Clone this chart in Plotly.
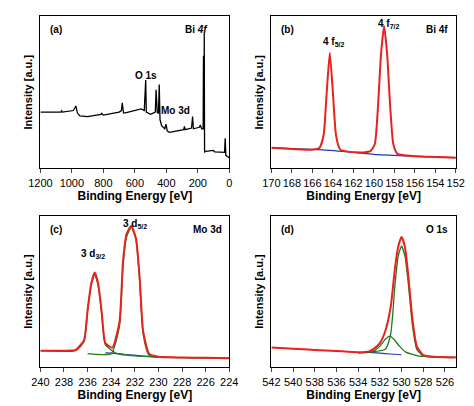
import plotly.graph_objects as go
from plotly.subplots import make_subplots

# (a) survey spectrum
survey_x = [1200, 1070, 1065, 1060, 990, 975, 965, 950, 900, 815, 810, 805, 800, 700, 685, 680, 672, 660,
            560, 540, 531, 527, 515, 500, 470, 465, 458, 450, 445, 440, 430, 410, 402, 398, 394, 380, 290,
            285, 280, 240, 233, 228, 190, 185, 175, 166, 164, 162, 160, 159, 157, 150, 100, 95, 90, 30,
            26, 22, 10, 0]
survey_y = [37, 37, 37.8, 37, 38, 41, 36.5, 34.5, 34, 35.5, 36.2, 35.5, 35, 37, 38, 43, 36.5, 36.5,
            39, 38, 58, 37, 36.5, 35.5, 37, 51.6, 37, 36, 55, 32, 28, 26, 29, 25, 24.5, 23.7, 25.4,
            27.5, 25.4, 26.5, 34, 26, 27, 28.4, 26, 26, 74, 26, 26, 89, 10.8, 11.2, 11.8, 11, 10.8, 10.5,
            19.8, 8.6, 8, 7]

# (b) Bi 4f
bi_x = [170, 168, 166, 165.3, 164.9, 164.6, 164.3, 164.0, 163.7, 163.3, 162.5, 161, 160.3, 159.9,
        159.6, 159.3, 159.0, 158.7, 158.4, 158.1, 157.7, 156, 154, 152]
bi_y = [13.5, 12.8, 12.2, 13.5, 22, 50, 76, 50, 22, 12.5, 11, 10.5, 11.5, 16, 40, 75, 93.5, 75, 40,
        16, 9.5, 8, 7.5, 7]
bi_bg_x = [170, 165, 162, 160, 157, 152]
bi_bg_y = [13.5, 12.2, 10.5, 9.2, 8.2, 7]

# (c) Mo 3d
mo_x = [240, 238, 237, 236.3, 236.0, 235.7, 235.4, 235.1, 234.8, 234.5, 233.9, 233.3, 233.0, 232.7,
        232.3, 231.9, 231.6, 231.3, 230.8, 230, 228, 226, 224]
mo_y = [11, 11, 11.5, 18, 38, 55, 62.6, 55, 36, 16, 13, 30, 70, 88, 93.5, 85, 60, 24, 9, 7, 6.5, 6.3, 6]
mo_g1_x = [240, 237, 236.3, 236.0, 235.7, 235.4, 235.1, 234.8, 234.5, 233.5, 232, 230]
mo_g1_y = [11, 11, 17, 37, 54, 61.5, 54, 35, 15, 9, 7.5, 7]
mo_g2_x = [236, 234, 233.3, 233.0, 232.7, 232.3, 231.9, 231.6, 231.3, 230.8, 229, 224]
mo_g2_y = [9, 9, 27, 67, 86, 92.5, 84, 58, 22, 8, 6.5, 6]
mo_bg_x = [234.5, 233, 231.5, 230]
mo_bg_y = [9.5, 8.8, 7.5, 6.5]

# (d) O 1s
o_x = [542, 540, 538, 536, 534, 533, 532.5, 532, 531.5, 531, 530.6, 530.3, 530.0, 529.7, 529.4,
       529.0, 528.6, 528, 527, 525]
o_y = [13, 12.3, 11.5, 10.8, 10, 10.5, 12.5, 16, 24, 40, 66, 80, 86, 80, 62, 32, 14, 8, 7, 6.5]
o_g1_x = [534, 531.5, 531, 530.6, 530.3, 530.0, 529.7, 529.4, 529.0, 528.6, 528, 525]
o_g1_y = [9.5, 12, 22, 55, 74, 80, 74, 57, 28, 12, 7.5, 6.5]
o_g2_x = [534, 533, 532.5, 532, 531.5, 531.1, 530.7, 530.2, 529.6, 528.5, 525]
o_g2_y = [9.6, 9.8, 11, 14, 18.5, 20.6, 18.5, 14, 10, 7.5, 6.5]
o_bg_x = [533, 532, 531, 530]
o_bg_y = [9.8, 9.3, 8.8, 8.3]

RED, GREEN, BLUE = "#e8221c", "#1f7a1f", "#1d3fa8"
F = "Liberation Sans, Arial, sans-serif"

fig = make_subplots(rows=2, cols=2)

def line(x, y, color, r, c, w=1.6):
    fig.add_trace(go.Scatter(x=x, y=y, mode="lines", line=dict(color=color, width=w, shape="spline", smoothing=0.5),
                             showlegend=False), row=r, col=c)

fig.add_trace(go.Scatter(x=survey_x, y=survey_y, mode="lines", line=dict(color="black", width=1.3),
                         showlegend=False), row=1, col=1)
line(bi_bg_x, bi_bg_y, BLUE, 1, 2, 1.2)
line(bi_x, bi_y, RED, 1, 2, 2)
line(mo_bg_x, mo_bg_y, BLUE, 2, 1, 1.2)
line(mo_g1_x, mo_g1_y, GREEN, 2, 1, 1.3)
line(mo_g2_x, mo_g2_y, GREEN, 2, 1, 1.3)
line(mo_x, mo_y, RED, 2, 1, 2)
line(o_bg_x, o_bg_y, BLUE, 2, 2, 1.2)
line(o_g1_x, o_g1_y, GREEN, 2, 2, 1.3)
line(o_g2_x, o_g2_y, GREEN, 2, 2, 1.3)
line(o_x, o_y, RED, 2, 2, 2)

ranges = {(1, 1): [1200, 0], (1, 2): [170, 152], (2, 1): [240, 224], (2, 2): [542, 525]}
dticks = {(1, 1): 200, (1, 2): 2, (2, 1): 2, (2, 2): 2}
for (r, c), rg in ranges.items():
    fig.update_xaxes(range=rg, dtick=dticks[(r, c)], tick0=0, ticks="outside", ticklen=4, showline=True,
                     linecolor="black", linewidth=1, mirror=True, showgrid=False, zeroline=False,
                     tickfont=dict(family=F, size=11, color="black"),
                     title=dict(text="<b>Binding Energy [eV]</b>", font=dict(family=F, size=12, color="black"), standoff=2),
                     row=r, col=c)
    fig.update_yaxes(range=[0, 100], showticklabels=False, ticks="", showline=True, linecolor="black",
                     linewidth=1, mirror=True, showgrid=False, zeroline=False,
                     title=dict(text="<b>Intensity [a.u.]</b>", font=dict(family=F, size=11, color="black"), standoff=4),
                     row=r, col=c)

fig.update_xaxes(domain=[0.045, 0.462], col=1)
fig.update_xaxes(domain=[0.555, 0.962], col=2)
fig.update_yaxes(domain=[0.605, 0.980], row=1)
fig.update_yaxes(domain=[0.115, 0.488], row=2)

labels = [("x", "y", 0.04, 0.96, "(a)", "left"), ("x", "y", 0.9, 0.96, "Bi <i>4f</i>", "right"),
          ("x", "y", 0.56, 0.66, "O 1s", "center"), ("x", "y", 0.8, 0.43, "Mo 3d", "right"),
          ("x2", "y2", 0.04, 0.96, "(b)", "left"), ("x2", "y2", 0.97, 0.96, "Bi 4f", "right"),
          ("x2", "y2", 0.34, 0.88, "4 f<sub>5/2</sub>", "center"), ("x2", "y2", 0.64, 1.0, "4 f<sub>7/2</sub>", "center"),
          ("x3", "y3", 0.04, 0.96, "(c)", "left"), ("x3", "y3", 0.97, 0.96, "Mo 3d", "right"),
          ("x3", "y3", 0.28, 0.8, "3 d<sub>3/2</sub>", "center"), ("x3", "y3", 0.5, 1.0, "3 d<sub>5/2</sub>", "center"),
          ("x4", "y4", 0.04, 0.96, "(d)", "left"), ("x4", "y4", 0.97, 0.96, "O 1s", "right")]
for xr, yr, x, y, t, al in labels:
    fig.add_annotation(xref=xr + " domain", yref=yr + " domain", x=x, y=y, text="<b>" + t + "</b>",
                       xanchor=al, yanchor="top", showarrow=False, font=dict(family=F, size=10, color="black"))

fig.update_layout(width=474, height=406, margin=dict(l=0, r=0, t=0, b=0),
                  plot_bgcolor="white", paper_bgcolor="white")
fig.write_html("out.html")
